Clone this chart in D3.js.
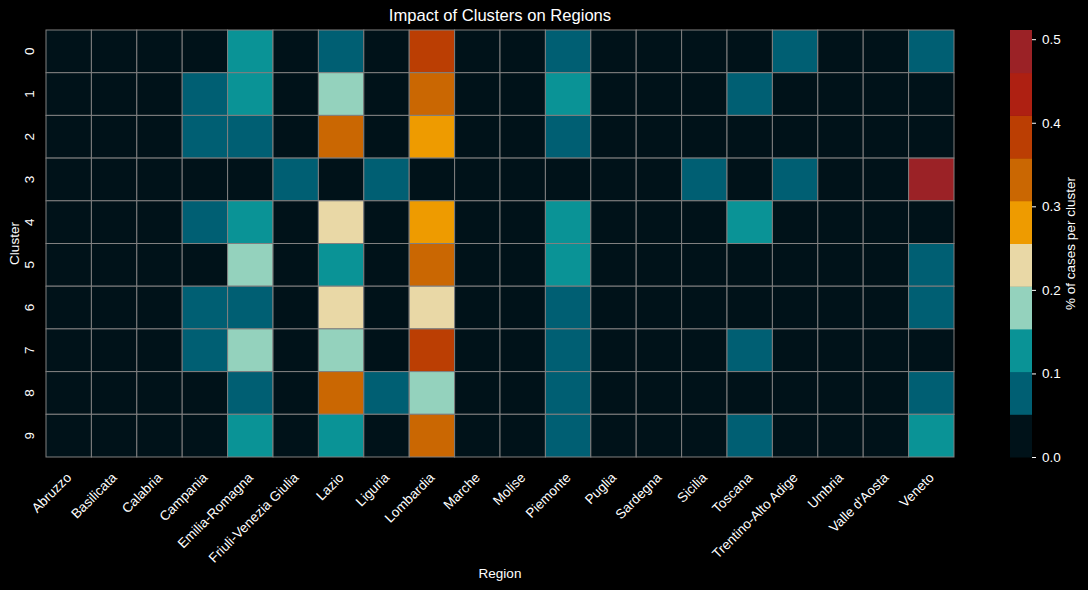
<!DOCTYPE html>
<html>
<head>
<meta charset="utf-8">
<script src="https://cdn.jsdelivr.net/npm/d3@7"></script>
<style>
  html, body { margin: 0; padding: 0; background: #000; }
  svg { display: block; }
  text { font-family: "Liberation Sans", Arial, sans-serif; fill: #fff; }
</style>
</head>
<body>
<div id="chart"></div>
<script>
////////////////////////////////////////////////////////////
//////////////////////// Data //////////////////////////////
////////////////////////////////////////////////////////////

var regions = ["Abruzzo", "Basilicata", "Calabria", "Campania", "Emilia-Romagna",
    "Friuli-Venezia Giulia", "Lazio", "Liguria", "Lombardia", "Marche", "Molise",
    "Piemonte", "Puglia", "Sardegna", "Sicilia", "Toscana", "Trentino-Alto Adige",
    "Umbria", "Valle d'Aosta", "Veneto"];

var clusters = ["0", "1", "2", "3", "4", "5", "6", "7", "8", "9"];

// share of cases per cluster, one row per cluster, one value per region
var cluster0 = [0.01, 0.00, 0.01, 0.03, 0.13, 0.01, 0.09, 0.02, 0.38, 0.01, 0.00, 0.08, 0.02, 0.01, 0.02, 0.04, 0.07, 0.00, 0.00, 0.08];
var cluster1 = [0.01, 0.00, 0.01, 0.07, 0.12, 0.01, 0.18, 0.02, 0.33, 0.01, 0.00, 0.12, 0.02, 0.01, 0.02, 0.07, 0.03, 0.00, 0.00, 0.03];
var cluster2 = [0.01, 0.01, 0.02, 0.08, 0.09, 0.01, 0.32, 0.02, 0.29, 0.01, 0.01, 0.07, 0.02, 0.01, 0.03, 0.04, 0.01, 0.01, 0.00, 0.04];
var cluster3 = [0.00, 0.00, 0.00, 0.02, 0.03, 0.06, 0.03, 0.07, 0.04, 0.00, 0.00, 0.02, 0.01, 0.00, 0.07, 0.03, 0.06, 0.00, 0.00, 0.511];
var cluster4 = [0.01, 0.00, 0.01, 0.08, 0.12, 0.01, 0.22, 0.02, 0.28, 0.01, 0.00, 0.13, 0.02, 0.01, 0.02, 0.11, 0.02, 0.00, 0.00, 0.03];
var cluster5 = [0.01, 0.00, 0.01, 0.04, 0.17, 0.01, 0.13, 0.02, 0.34, 0.01, 0.00, 0.12, 0.01, 0.01, 0.02, 0.04, 0.02, 0.00, 0.00, 0.07];
var cluster6 = [0.01, 0.00, 0.01, 0.07, 0.08, 0.01, 0.23, 0.02, 0.22, 0.01, 0.00, 0.09, 0.02, 0.01, 0.03, 0.04, 0.02, 0.00, 0.00, 0.08];
var cluster7 = [0.01, 0.00, 0.01, 0.08, 0.17, 0.01, 0.17, 0.02, 0.39, 0.01, 0.00, 0.08, 0.01, 0.01, 0.02, 0.07, 0.02, 0.00, 0.00, 0.03];
var cluster8 = [0.01, 0.00, 0.01, 0.03, 0.09, 0.01, 0.32, 0.07, 0.19, 0.01, 0.00, 0.08, 0.02, 0.01, 0.03, 0.04, 0.02, 0.00, 0.00, 0.08];
var cluster9 = [0.01, 0.00, 0.01, 0.03, 0.13, 0.01, 0.14, 0.02, 0.33, 0.01, 0.00, 0.08, 0.02, 0.01, 0.03, 0.09, 0.02, 0.00, 0.00, 0.12];

var values = [cluster0, cluster1, cluster2, cluster3, cluster4,
    cluster5, cluster6, cluster7, cluster8, cluster9];

var palette = ["#001219", "#005f73", "#0a9396", "#94d2bd", "#e9d8a6",
    "#ee9b00", "#ca6702", "#bb3e03", "#ae2012", "#9b2226"];

var colorTicks = [0, 0.1, 0.2, 0.3, 0.4, 0.5];

////////////////////////////////////////////////////////////
//////////////////////// Set-up ////////////////////////////
////////////////////////////////////////////////////////////

var width = 1088, height = 590;
var plot = { left: 46, top: 30, right: 954, bottom: 457 };
var fontSize = "13.5px";

var svg = d3.select("#chart").append("svg")
    .attr("width", width)
    .attr("height", height);

svg.append("rect").attr("width", width).attr("height", height).attr("fill", "#000");

var cells = [];
values.forEach(function (row, i) {
    row.forEach(function (v, j) {
        cells.push({ cluster: clusters[i], region: regions[j], value: v });
    });
});

var vmax = d3.max(cells, function (d) { return d.value; });

var x = d3.scaleBand().domain(regions).range([plot.left, plot.right]);
var y = d3.scaleBand().domain(clusters).range([plot.top, plot.bottom]);
var color = d3.scaleQuantize().domain([0, vmax]).range(palette);

////////////////////////////////////////////////////////////
//////////////////////// Heatmap ///////////////////////////
////////////////////////////////////////////////////////////

svg.append("g").selectAll("rect")
    .data(cells)
    .enter().append("rect")
    .attr("x", function (d) { return x(d.region); })
    .attr("y", function (d) { return y(d.cluster); })
    .attr("width", x.bandwidth())
    .attr("height", y.bandwidth())
    .attr("fill", function (d) { return color(d.value); })
    .attr("stroke", "#808080")
    .attr("stroke-width", 1);

//X labels, rotated 45 degrees and anchored at their end
svg.append("g").selectAll("text")
    .data(regions)
    .enter().append("text")
    .attr("transform", function (d) {
        return "translate(" + (x(d) + x.bandwidth() / 2 + 3.5) + "," + (plot.bottom + 21.5) + ") rotate(-45)";
    })
    .style("text-anchor", "end")
    .style("font-size", fontSize)
    .text(function (d) { return d; });

//Y labels, rotated so they read upwards
svg.append("g").selectAll("text")
    .data(clusters)
    .enter().append("text")
    .attr("transform", function (d) {
        return "translate(34," + (y(d) + y.bandwidth() / 2) + ") rotate(-90)";
    })
    .style("text-anchor", "middle")
    .style("font-size", fontSize)
    .text(function (d) { return d; });

svg.append("text")
    .attr("x", (plot.left + plot.right) / 2)
    .attr("y", 21)
    .style("text-anchor", "middle")
    .style("font-size", "16.6px")
    .text("Impact of Clusters on Regions");

svg.append("text")
    .attr("x", (plot.left + plot.right) / 2)
    .attr("y", 578)
    .style("text-anchor", "middle")
    .style("font-size", fontSize)
    .text("Region");

svg.append("text")
    .attr("transform", "translate(19," + (plot.top + plot.bottom) / 2 + ") rotate(-90)")
    .style("text-anchor", "middle")
    .style("font-size", fontSize)
    .text("Cluster");

////////////////////////////////////////////////////////////
//////////////////////// Colorbar //////////////////////////
////////////////////////////////////////////////////////////

var cb = { left: 1010, width: 22 };
var cy = d3.scaleLinear().domain([0, vmax]).range([plot.bottom, plot.top]);

var bins = palette.map(function (c) {
    var ext = color.invertExtent(c);
    return { color: c, lo: ext[0], hi: ext[1] };
});

svg.append("g").selectAll("rect")
    .data(bins)
    .enter().append("rect")
    .attr("x", cb.left)
    .attr("y", function (d) { return cy(d.hi); })
    .attr("width", cb.width)
    .attr("height", function (d) { return cy(d.lo) - cy(d.hi) + 0.5; })
    .attr("fill", function (d) { return d.color; });

var cAxis = svg.append("g")
    .attr("transform", "translate(" + (cb.left + cb.width) + ",0)")
    .call(d3.axisRight(cy).tickValues(colorTicks).tickFormat(d3.format(".1f")).tickSize(4).tickPadding(6));

cAxis.select(".domain").remove();
cAxis.selectAll("line").attr("stroke", "#fff");
cAxis.selectAll("text")
    .style("font-size", fontSize)
    .style("font-family", "Liberation Sans, Arial, sans-serif")
    .attr("fill", "#fff");

svg.append("text")
    .attr("transform", "translate(1075," + (plot.top + plot.bottom) / 2 + ") rotate(-90)")
    .style("text-anchor", "middle")
    .style("font-size", fontSize)
    .text("% of cases per cluster");
</script>
</body>
</html>
